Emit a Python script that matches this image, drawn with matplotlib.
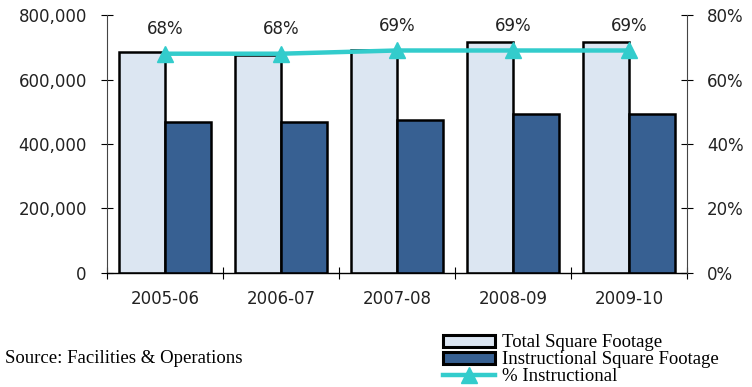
import matplotlib
matplotlib.use("Agg")
from matplotlib import pyplot as plt
from matplotlib.patches import Patch
from matplotlib.lines import Line2D
from matplotlib.ticker import FuncFormatter
import numpy as np

years = ["2005-06", "2006-07", "2007-08", "2008-09", "2009-10"]
total_sqft = [686000, 677000, 690000, 715000, 715000]
instr_sqft = [469000, 469000, 473000, 493000, 493000]
pct_instr = [0.68, 0.68, 0.69, 0.69, 0.69]

light = "#DCE6F2"
dark = "#376092"
cyan = "#33CCCC"
sans = "DejaVu Sans"
serif = "Liberation Serif"
fs = 12

fig = plt.figure(figsize=(7.52, 3.87), dpi=100)
ax = fig.add_axes([0.1423, 0.2946, 0.7713, 0.6666])

x = np.arange(len(years))
w = 0.4
ax.bar(x - w/2, total_sqft, w, color=light, edgecolor="black", linewidth=1.8)
ax.bar(x + w/2, instr_sqft, w, color=dark, edgecolor="black", linewidth=1.8)
ax.set_xlim(-0.5, 4.5)
ax.set_ylim(0, 800000)
ax.set_yticks(range(0, 800001, 200000))
ax.yaxis.set_major_formatter(FuncFormatter(lambda v, p: f"{int(v):,}"))
ax.set_xticks(x)
ax.set_xticklabels(years, fontfamily=sans, fontsize=fs, color="#222222")
ax.set_xticks(np.arange(-0.5, 5, 1), minor=True)
ax.tick_params(axis="x", which="major", length=0, pad=12)
ax.tick_params(axis="x", which="minor", direction="inout", length=9, width=0.8)
ax.tick_params(axis="y", direction="inout", length=9, width=0.8, labelsize=fs,
               pad=10, labelcolor="#222222")
for lbl in ax.get_yticklabels():
    lbl.set_fontfamily(sans)
ax.spines["top"].set_visible(False)
ax.spines["right"].set_visible(False)
ax.spines["left"].set_color("#444444")
ax.spines["bottom"].set_linewidth(1.0)

ax2 = ax.twinx()
ax2.plot(x, pct_instr, color=cyan, linewidth=3.2, marker="^", markersize=12, zorder=5)
ax2.set_ylim(0, 0.8)
ax2.set_yticks(np.arange(0, 0.81, 0.2))
ax2.yaxis.set_major_formatter(FuncFormatter(lambda v, p: f"{v*100:.0f}%"))
ax2.tick_params(axis="y", direction="inout", length=9, width=0.8, labelsize=fs,
                pad=10, labelcolor="#222222")
for lbl in ax2.get_yticklabels():
    lbl.set_fontfamily(sans)
ax2.spines["top"].set_visible(False)
ax2.spines["left"].set_visible(False)
ax2.spines["bottom"].set_visible(False)
ax2.spines["right"].set_color("#444444")
for xi, p in zip(x, pct_instr):
    ax2.annotate(f"{p*100:.0f}%", (xi, p), xytext=(0, 11), textcoords="offset points",
                 ha="center", va="bottom", fontsize=fs, fontfamily=sans, color="#222222")

handles = [
    Patch(facecolor=light, edgecolor="black", linewidth=2.2),
    Patch(facecolor=dark, edgecolor="black", linewidth=2.2),
    Line2D([0], [0], color=cyan, linewidth=3.2, marker="^", markersize=12),
]
labels = ["Total Square Footage", "Instructional Square Footage", "% Instructional"]
fig.legend(handles, labels, loc="upper left", bbox_to_anchor=(0.589, 0.136),
           frameon=False, prop={"family": serif, "size": 13.5},
           handlelength=2.8, handleheight=0.6, handletextpad=0.35,
           labelspacing=0.0, borderpad=0, borderaxespad=0)

fig.text(0.007, 0.062, "Source: Facilities & Operations", fontfamily=serif, fontsize=13.5)

fig.savefig("out.png", dpi=100)
